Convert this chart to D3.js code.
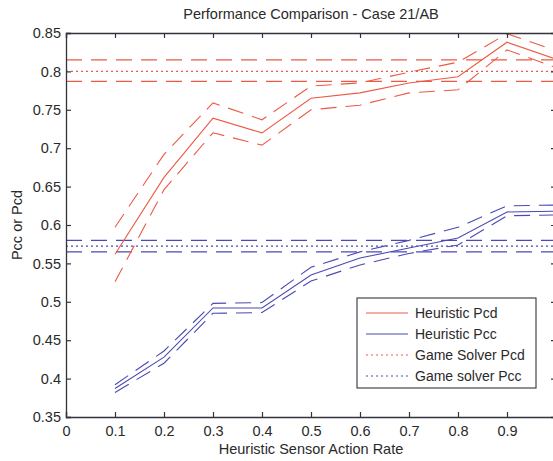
<!DOCTYPE html>
<html>
<head>
<meta charset="utf-8">
<script src="https://cdn.jsdelivr.net/npm/d3@7"></script>
<style>
  html, body { margin: 0; padding: 0; background: #fff; }
  svg { display: block; }
  text { font-family: "Liberation Sans", Arial, sans-serif; fill: #2a2a2a; }
</style>
</head>
<body>
<svg id="chart" width="553" height="461"></svg>
<script>
// Heuristic sensor action rate (x)
const actionRates = [0.1, 0.2, 0.3, 0.4, 0.5, 0.6, 0.7, 0.8, 0.9, 1.0];

// Heuristic Pcd: mean with upper / lower confidence bounds
const heuristicPcd      = [0.562, 0.662, 0.739, 0.720, 0.765, 0.772, 0.785, 0.793, 0.838, 0.816];
const heuristicPcdUpper = [0.597, 0.692, 0.759, 0.737, 0.781, 0.785, 0.799, 0.812, 0.849, 0.827];
const heuristicPcdLower = [0.526, 0.646, 0.720, 0.704, 0.750, 0.756, 0.772, 0.776, 0.828, 0.805];

// Heuristic Pcc: mean with upper / lower confidence bounds
const heuristicPcc      = [0.387, 0.428, 0.492, 0.492, 0.535, 0.557, 0.570, 0.583, 0.617, 0.618];
const heuristicPccUpper = [0.392, 0.436, 0.498, 0.499, 0.545, 0.565, 0.580, 0.597, 0.625, 0.626];
const heuristicPccLower = [0.382, 0.420, 0.485, 0.486, 0.527, 0.548, 0.563, 0.574, 0.612, 0.613];

// Game solver results (constant over action rate): [lower, mean, upper]
const gameSolverPcd = [0.787, 0.800, 0.815];
const gameSolverPcc = [0.565, 0.5725, 0.580];

// Axis ticks
const xTicks = [0, 0.1, 0.2, 0.3, 0.4, 0.5, 0.6, 0.7, 0.8, 0.9, 1];
const xTickLabels = ["0", "0.1", "0.2", "0.3", "0.4", "0.5", "0.6", "0.7", "0.8", "0.9", "1"];
const yTicks = [0.35, 0.4, 0.45, 0.5, 0.55, 0.6, 0.65, 0.7, 0.75, 0.8, 0.85];
const yTickLabels = ["0.35", "0.4", "0.45", "0.5", "0.55", "0.6", "0.65", "0.7", "0.75", "0.8", "0.85"];

const legendLabels = ["Heuristic Pcd", "Heuristic Pcc", "Game Solver Pcd", "Game solver Pcc"];

const RED = "#eb5a44";
const BLUE = "#4a4ab2";
const AXIS = "#33333d";
const DASH = "16,9";
const DOT = "2,3";

const svg = d3.select("#chart");
const plotLeft = 66, plotRight = 556, plotTop = 33, plotBottom = 417;

const x = d3.scaleLinear().domain([0, 1]).range([plotLeft, plotRight]);
const y = d3.scaleLinear().domain([0.35, 0.85]).range([plotBottom, plotTop]);

// Clip data to the axes box
svg.append("defs").append("clipPath").attr("id", "plotClip")
  .append("rect").attr("x", plotLeft).attr("y", plotTop)
  .attr("width", plotRight - plotLeft).attr("height", plotBottom - plotTop);

const plot = svg.append("g").attr("clip-path", "url(#plotClip)");

const line = d3.line().x((d, i) => x(actionRates[i])).y(d => y(d));

function drawSeries(values, color, dash) {
  plot.append("path")
    .datum(values)
    .attr("d", line)
    .attr("fill", "none")
    .attr("stroke", color)
    .attr("stroke-width", 1.1)
    .attr("stroke-dasharray", dash || null);
}

function drawLevel(v, color, dash) {
  plot.append("line")
    .attr("x1", x(0)).attr("x2", x(1))
    .attr("y1", y(v)).attr("y2", y(v))
    .attr("stroke", color)
    .attr("stroke-width", 1.1)
    .attr("stroke-dasharray", dash);
}

// Game solver levels
drawLevel(gameSolverPcd[2], RED, DASH);
drawLevel(gameSolverPcd[1], RED, DOT);
drawLevel(gameSolverPcd[0], RED, DASH);
drawLevel(gameSolverPcc[2], BLUE, DASH);
drawLevel(gameSolverPcc[1], BLUE, DOT);
drawLevel(gameSolverPcc[0], BLUE, DASH);

// Heuristic curves
drawSeries(heuristicPcdUpper, RED, DASH);
drawSeries(heuristicPcd, RED);
drawSeries(heuristicPcdLower, RED, DASH);
drawSeries(heuristicPccUpper, BLUE, DASH);
drawSeries(heuristicPcc, BLUE);
drawSeries(heuristicPccLower, BLUE, DASH);

// Axes (ticks point inward on all four sides)
const xAxis = d3.axisBottom(x).tickValues(xTicks)
  .tickFormat((d, i) => xTickLabels[i]).tickSize(-5).tickPadding(9);
const yAxis = d3.axisLeft(y).tickValues(yTicks)
  .tickFormat((d, i) => yTickLabels[i]).tickSize(-5).tickPadding(5);

function styleAxis(g) {
  g.selectAll("path").attr("stroke", AXIS).attr("stroke-width", 1.3);
  g.selectAll("line").attr("stroke", AXIS).attr("stroke-width", 1.2);
  g.selectAll("text").style("font-size", "14.5px").attr("fill", "#2a2a2a");
}

svg.append("g").attr("transform", `translate(0,${plotBottom})`).call(xAxis).call(styleAxis);
svg.append("g").attr("transform", `translate(${plotLeft},0)`).call(yAxis).call(styleAxis);
svg.append("g").attr("transform", `translate(0,${plotTop})`)
  .call(d3.axisTop(x).tickValues(xTicks).tickFormat("").tickSize(-5)).call(styleAxis);
svg.append("g").attr("transform", `translate(${plotRight},0)`)
  .call(d3.axisRight(y).tickValues(yTicks).tickFormat("").tickSize(-5)).call(styleAxis);

// Title and axis labels
svg.append("text")
  .attr("x", (plotLeft + plotRight) / 2).attr("y", 19)
  .attr("text-anchor", "middle").style("font-size", "14.5px")
  .text("Performance Comparison - Case 21/AB");

svg.append("text")
  .attr("x", (plotLeft + plotRight) / 2).attr("y", 454)
  .attr("text-anchor", "middle").style("font-size", "14.5px")
  .text("Heuristic Sensor Action Rate");

svg.append("text")
  .attr("transform", `translate(22,${(plotTop + plotBottom) / 2}) rotate(-90)`)
  .attr("text-anchor", "middle").style("font-size", "14.5px")
  .text("Pcc or Pcd");

// Legend
const legend = svg.append("g").attr("transform", "translate(357,298)");
legend.append("rect")
  .attr("width", 179).attr("height", 90)
  .attr("fill", "#fff").attr("stroke", AXIS).attr("stroke-width", 1.1);

const legendStyles = [
  { color: RED, dash: null },
  { color: BLUE, dash: null },
  { color: RED, dash: DOT },
  { color: BLUE, dash: DOT }
];

legendLabels.forEach((label, i) => {
  const row = legend.append("g").attr("transform", `translate(0,${15 + i * 21})`);
  row.append("line")
    .attr("x1", 9).attr("x2", 51).attr("y1", 0).attr("y2", 0)
    .attr("stroke", legendStyles[i].color).attr("stroke-width", 1.1)
    .attr("stroke-dasharray", legendStyles[i].dash);
  row.append("text")
    .attr("x", 58).attr("y", 5)
    .style("font-size", "14px")
    .text(label);
});
</script>
</body>
</html>
